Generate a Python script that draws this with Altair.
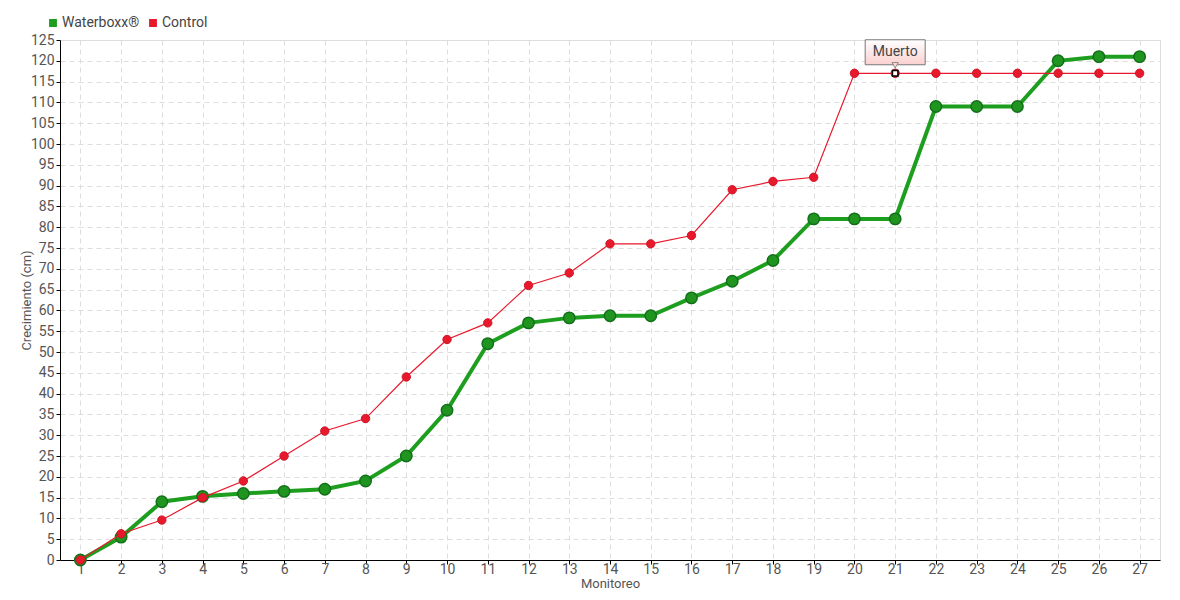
import altair as alt
import pandas as pd

monitoreo = list(range(1, 28))
waterboxx = [0, 5.5, 14, 15.3, 16, 16.5, 17, 19, 25, 36, 52, 57, 58.2, 58.7, 58.7, 63, 67, 72, 82, 82, 82, 109, 109, 109, 120, 121, 121]
control = [0, 6.3, 9.6, 15, 19, 25, 31, 34, 44, 53, 57, 66, 69, 76, 76, 78, 89, 91, 92, 117, 117, 117, 117, 117, 117, 117, 117]
series_names = ["Waterboxx®", "Control"]
series_colors = ["#1e9e1e", "#e8192c"]
y_ticks = list(range(0, 126, 5))
annot_x = [21]
annot_y = [117]
annot_text = ["Muerto"]

FONT = "Liberation Sans Narrow, Roboto, sans-serif"

df = pd.DataFrame({
    "Monitoreo": monitoreo * 2,
    "valor": waterboxx + control,
    "serie": [series_names[0]] * len(monitoreo) + [series_names[1]] * len(monitoreo),
})
ann = pd.DataFrame({"Monitoreo": annot_x, "valor": annot_y, "txt": annot_text})

xscale = alt.Scale(domain=[0.5, 27.5], nice=False, zero=False)
yscale = alt.Scale(domain=[0, 125], nice=False)
color = alt.Color("serie:N", scale=alt.Scale(domain=series_names, range=series_colors),
                  legend=alt.Legend(title=None, orient="none", legendX=-14, legendY=-24,
                                    direction="horizontal", symbolType="square", symbolSize=40,
                                    labelFont=FONT, labelFontSize=14, labelColor="#444",
                                    columnPadding=6, symbolOffset=0, labelOffset=2))

xaxis = alt.Axis(values=monitoreo, title="Monitoreo", format="d", grid=True,
                 gridDash=[5, 4], gridColor="#dddddd", domainColor="#000",
                 tickColor="#000", tickSize=4, labelFont=FONT, labelFontSize=14,
                 labelColor="#555", labelPadding=-2, labelOverlap=False,
                 titleFont=FONT, titleFontSize=13,
                 titleFontWeight="normal", titleColor="#555", titlePadding=1)
yaxis = alt.Axis(values=y_ticks, title="Crecimiento (cm)", grid=True,
                 gridDash=[5, 4], gridColor="#dddddd", domainColor="#000",
                 tickColor="#000", tickSize=4, labelFont=FONT, labelFontSize=14,
                 labelColor="#555", labelPadding=2, labelOverlap=False,
                 titleFont=FONT, titleFontSize=13,
                 titleFontWeight="normal", titleColor="#555", titlePadding=-3)
xenc = alt.X("Monitoreo:Q", scale=xscale, axis=xaxis)
yenc = alt.Y("valor:Q", scale=yscale, axis=yaxis)

base = alt.Chart(df).encode(x=xenc, y=yenc)

w = base.transform_filter(alt.datum.serie == series_names[0])
c = base.transform_filter(alt.datum.serie == series_names[1])

w_line = w.mark_line(strokeWidth=4, color="#1e9e1e").encode(color=color)
w_pts = w.mark_point(filled=True, size=130, opacity=1, fill="#1f951f", stroke="#13701a", strokeWidth=1.5).encode(color=color)
c_line = c.mark_line(strokeWidth=1.2, color="#ff4a5a").encode(color=color)
c_pts = c.mark_point(filled=True, size=70, opacity=1, fill="#e8192c", stroke="#d01525", strokeWidth=1).encode(color=color)

abase = alt.Chart(ann).encode(x=xenc, y=yenc)
a_pt = abase.mark_square(size=30, fill="white", stroke="black", strokeWidth=1.5, opacity=1)
a_box = abase.mark_rect(width=60, height=25, yOffset=-21, stroke="#777", strokeWidth=1,
                        color={"gradient": "linear", "x1": 0, "y1": 0, "x2": 0, "y2": 1,
                               "stops": [{"offset": 0, "color": "#ffffff"}, {"offset": 1, "color": "#fbd0d0"}]})
a_tri = abase.mark_point(shape="triangle-down", size=40, filled=True, fill="#fcd6d6", stroke="#777",
                         strokeWidth=0.8, opacity=1, yOffset=-8)
a_txt = abase.mark_text(yOffset=-21, font=FONT, fontSize=14, color="#444").encode(text="txt:N")

chart = alt.layer(w_line, w_pts, c_line, c_pts, a_box, a_tri, a_txt, a_pt).properties(
    width=1100, height=520,
    autosize=alt.AutoSizeParams(type="none"),
    padding={"left": 52, "top": 32, "right": 12, "bottom": 32},
).configure_view(stroke=None).configure(background="white")

chart.save("out.html", embed_options={"renderer": "svg", "actions": False})
